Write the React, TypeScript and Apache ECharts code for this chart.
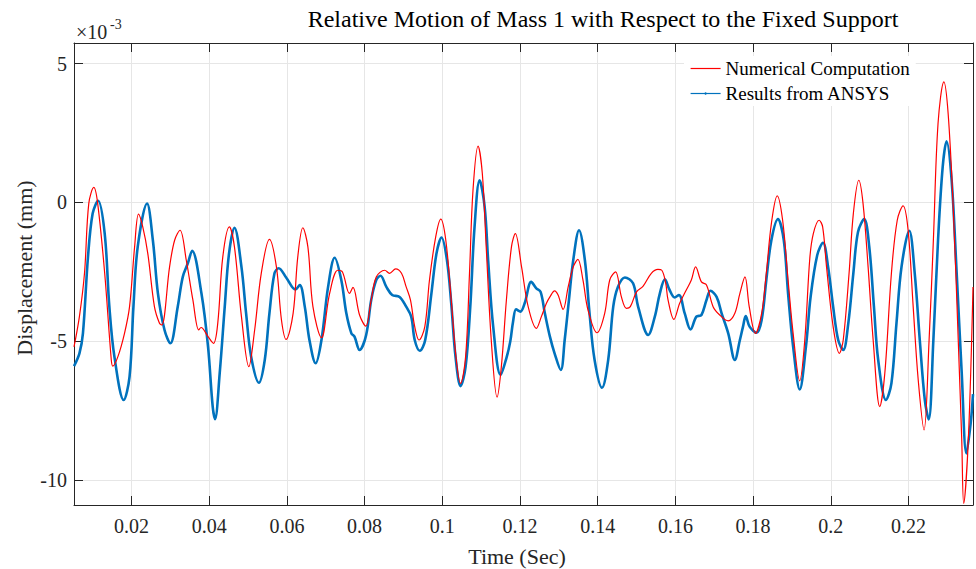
import React, { useEffect, useRef } from "react";
import * as echarts from "echarts";

// Numerical Computation (red) — time (s), displacement (×1e-3 mm)
const numTime = [
  0.0052, 0.0066, 0.0079, 0.009, 0.0103, 0.0113, 0.0131, 0.0148, 0.0152, 0.0165, 0.0182, 0.0195,
  0.0208, 0.0218, 0.0229, 0.0242, 0.0259, 0.0272, 0.0278, 0.0298, 0.0311, 0.0325, 0.0341, 0.0358,
  0.0373, 0.0379, 0.0397, 0.0411, 0.0422, 0.0435, 0.0452, 0.0465, 0.0483, 0.0502, 0.0517, 0.0534,
  0.0555, 0.0573, 0.0586, 0.0598, 0.0616, 0.0628, 0.0641, 0.0654, 0.0667, 0.0689, 0.071, 0.0731,
  0.0743, 0.0761, 0.077, 0.0787, 0.0803, 0.0817, 0.083, 0.0852, 0.0864, 0.088, 0.0895, 0.0907,
  0.0918, 0.0929, 0.094, 0.0955, 0.0967, 0.0983, 0.0996, 0.1009, 0.1023, 0.1036, 0.1047, 0.106,
  0.107, 0.1079, 0.1092, 0.1103, 0.1113, 0.1126, 0.1141, 0.1152, 0.1165, 0.1178, 0.1188, 0.1204,
  0.1221, 0.1242, 0.1255, 0.1268, 0.1277, 0.1289, 0.1298, 0.1311, 0.1324, 0.1337, 0.1349, 0.1362,
  0.1375, 0.1398, 0.1418, 0.1431, 0.1446, 0.1461, 0.1474, 0.1484, 0.15, 0.1517, 0.1538, 0.1555,
  0.1565, 0.1575, 0.1581, 0.1596, 0.1611, 0.1628, 0.1641, 0.1652, 0.1667, 0.168, 0.1697, 0.1714,
  0.1736, 0.1753, 0.1766, 0.1779, 0.179, 0.1806, 0.1822, 0.1834, 0.1847, 0.1862, 0.1876, 0.189,
  0.1903, 0.192, 0.1933, 0.1946, 0.1955, 0.197, 0.1979, 0.1989, 0.2006, 0.2022, 0.2032, 0.2047,
  0.2058, 0.2072, 0.2083, 0.2096, 0.2109, 0.2126, 0.2139, 0.2156, 0.2171, 0.2186, 0.2199, 0.2212,
  0.2225, 0.224, 0.2253, 0.2264, 0.2276, 0.2291, 0.2302, 0.2315, 0.2328, 0.2337, 0.2342, 0.2354,
  0.2366,
];
const numDisp = [
  -5.2, -4.1, -2.55, -0.04, 0.54, -0.04, -2.55, -5.67, -5.89, -5.55, -4.71, -3.75,
  -1.6, -0.42, -0.88, -1.84, -3.75, -4.35, -4.41, -2.32, -1.36, -1.0, -2.08, -3.51,
  -4.59, -4.5, -4.83, -5.07, -4.35, -1.96, -0.88, -1.6, -4.11, -5.91, -4.59, -2.55,
  -1.33, -2.32, -4.23, -4.93, -3.99, -1.96, -0.91, -1.6, -3.75, -4.87, -3.27, -2.44,
  -2.5, -3.27, -3.06, -4.05, -4.45, -3.51, -2.68, -2.44, -2.55, -2.39, -2.55, -3.04,
  -3.51, -4.47, -4.95, -4.47, -2.79, -1.24, -0.6, -1.36, -3.51, -5.67, -6.51, -5.55,
  -2.55, 0.44, 2.03, 1.04, -1.6, -4.95, -7.01, -5.91, -3.51, -1.6, -1.12, -2.32,
  -3.75, -4.53, -4.11, -3.63, -3.4, -3.18, -3.33, -3.85, -3.04, -2.32, -2.05, -2.79,
  -3.87, -4.69, -3.99, -2.79, -2.5, -3.4, -3.81, -3.75, -3.22, -3.01, -2.55, -2.41,
  -2.44, -2.9, -3.51, -4.21, -3.63, -3.15, -2.79, -2.32, -2.86, -2.97, -3.75, -4.05,
  -4.26, -3.99, -3.27, -2.68, -3.75, -4.71, -3.99, -2.55, -0.76, 0.24, -0.64, -2.79,
  -4.71, -6.42, -4.95, -2.0, -1.12, -0.64, -0.88, -2.32, -4.47, -5.43, -4.95, -2.55,
  -0.4, 0.8, -0.04, -2.32, -4.95, -7.35, -6.15, -2.55, -0.64, -0.12, -1.0, -3.75,
  -6.39, -8.19, -4.95, -1.36, 2.84, 4.34, 3.2, -0.16, -4.95, -8.53, -10.83, -8.53,
  -3.04,
];

// Results from ANSYS (blue) — time (s), displacement (×1e-3 mm)
const ansysTime = [
  0.0052, 0.0066, 0.0075, 0.0088, 0.01, 0.0114, 0.0131, 0.0143, 0.0156, 0.018, 0.0195, 0.0205,
  0.0216, 0.024, 0.0255, 0.0268, 0.0285, 0.03, 0.0319, 0.0332, 0.0345, 0.0356, 0.038, 0.0397,
  0.0409, 0.0415, 0.0427, 0.044, 0.0451, 0.0465, 0.0483, 0.0495, 0.0508, 0.0528, 0.0543, 0.0555,
  0.0568, 0.0579, 0.0598, 0.0622, 0.0633, 0.0646, 0.0658, 0.0674, 0.0689, 0.0706, 0.0723, 0.074,
  0.0753, 0.0766, 0.0774, 0.0787, 0.0804, 0.0817, 0.083, 0.0841, 0.0856, 0.0871, 0.089, 0.0907,
  0.092, 0.0929, 0.0942, 0.0956, 0.0972, 0.0985, 0.0998, 0.1012, 0.1023, 0.1034, 0.1047, 0.106,
  0.1072, 0.1083, 0.1096, 0.1109, 0.1118, 0.1131, 0.115, 0.1165, 0.1175, 0.1182, 0.119, 0.1201,
  0.1212, 0.1229, 0.1242, 0.1253, 0.1264, 0.1277, 0.1289, 0.1305, 0.1315, 0.1326, 0.1337, 0.1352,
  0.1367, 0.1379, 0.1392, 0.1411, 0.1427, 0.144, 0.1452, 0.147, 0.1491, 0.1504, 0.153, 0.1547,
  0.156, 0.1573, 0.1585, 0.1598, 0.1609, 0.1624, 0.1639, 0.1654, 0.1667, 0.168, 0.169, 0.1706,
  0.1719, 0.1736, 0.1753, 0.1766, 0.1774, 0.1781, 0.1791, 0.1809, 0.1822, 0.1834, 0.1847, 0.1864,
  0.1879, 0.189, 0.1903, 0.192, 0.1936, 0.1948, 0.1965, 0.198, 0.1993, 0.2006, 0.2019, 0.2032,
  0.2045, 0.2058, 0.207, 0.2086, 0.2099, 0.2111, 0.2122, 0.2142, 0.2156, 0.2169, 0.2182, 0.2202,
  0.2216, 0.2229, 0.2242, 0.2252, 0.2264, 0.2276, 0.2288, 0.2298, 0.2311, 0.2324, 0.2337, 0.2349,
  0.236, 0.2366,
];
const ansysDisp = [
  -5.89, -5.43, -4.71, -1.96, -0.4, 0.06, -1.12, -3.75, -5.55, -7.11, -6.27, -3.75,
  -1.6, -0.04, -1.36, -3.27, -4.59, -5.07, -3.75, -2.68, -2.19, -1.74, -3.27, -5.19,
  -7.35, -7.8, -6.15, -3.75, -1.84, -0.91, -2.32, -3.99, -5.55, -6.49, -5.67, -3.99,
  -2.55, -2.37, -2.7, -3.13, -2.97, -3.75, -4.95, -5.79, -4.95, -3.04, -1.99, -2.79,
  -3.99, -4.71, -4.83, -5.31, -4.77, -3.51, -2.79, -2.64, -3.04, -3.33, -3.4, -3.75,
  -4.11, -4.95, -5.34, -4.95, -3.27, -1.84, -1.26, -2.08, -3.63, -5.55, -6.61, -5.91,
  -3.75, -0.88, 0.8, -0.16, -2.08, -4.47, -6.21, -5.6, -5.0, -4.3, -3.85, -3.93,
  -3.63, -2.86, -3.09, -3.22, -3.99, -4.83, -5.43, -6.03, -4.95, -3.51, -2.08, -1.0,
  -2.08, -3.99, -5.67, -6.67, -5.67, -3.75, -3.04, -2.7, -2.91, -3.75, -4.77, -4.11,
  -3.27, -2.77, -3.15, -3.42, -3.33, -3.99, -4.57, -4.11, -4.05, -3.51, -3.18, -3.4,
  -3.99, -4.71, -5.67, -4.95, -4.47, -4.09, -4.47, -4.69, -4.23, -2.79, -1.36, -0.6,
  -1.36, -3.27, -5.19, -6.73, -5.19, -3.4, -1.9, -1.45, -2.32, -3.75, -4.95, -5.31,
  -4.35, -2.55, -1.06, -0.6, -1.6, -3.75, -5.67, -7.11, -6.51, -4.35, -2.32, -1.02,
  -2.55, -4.95, -7.11, -7.81, -4.95, -1.36, 1.28, 2.2, 0.8, -2.55, -6.15, -9.03,
  -7.95, -6.9,
];

const xTicks = [0.02, 0.04, 0.06, 0.08, 0.1, 0.12, 0.14, 0.16, 0.18, 0.2, 0.22];
const yTicks = [-10, -5, 0, 5];
const xRange = [0.0052, 0.2366];
const yRange = [-10.89, 5.74];

const FONT = "'Liberation Serif', 'Times New Roman', serif";
const AXIS_COLOR = "#262626";
const GRID_COLOR = "#e6e6e6";

export default function App() {
  const ref = useRef<HTMLDivElement>(null);

  useEffect(() => {
    if (!ref.current) return;
    const chart = echarts.init(ref.current, undefined, { renderer: "svg" });

    const baseX = {
      type: "value",
      min: xRange[0],
      max: xRange[1],
      axisLine: { show: true, onZero: false, lineStyle: { color: AXIS_COLOR, width: 1 } },
      axisTick: { show: true, inside: true, length: 9, customValues: xTicks, lineStyle: { color: AXIS_COLOR } },
    };
    const baseY = {
      type: "value",
      min: yRange[0],
      max: yRange[1],
      axisLine: { show: true, onZero: false, lineStyle: { color: AXIS_COLOR, width: 1 } },
      axisTick: { show: true, inside: true, length: 9, customValues: yTicks, lineStyle: { color: AXIS_COLOR } },
    };

    chart.setOption({
      animation: false,
      backgroundColor: "#ffffff",
      textStyle: { fontFamily: FONT },
      grid: { left: 74, right: 3, top: 43, bottom: 64, outerBoundsMode: "none", containLabel: false },
      legend: {
        orient: "vertical",
        left: 684,
        top: 56,
        padding: [3, 6, 3, 6],
        backgroundColor: "#ffffff",
        itemWidth: 30,
        itemHeight: 3,
        itemGap: 6,
        lineStyle: { width: 1.2 },
        textStyle: { fontFamily: FONT, fontSize: 19, color: "#000000", padding: [0, 0, 0, 0] },
        data: [
          { name: "Numerical Computation", itemStyle: { opacity: 0 } },
          { name: "Results from ANSYS" },
        ],
      },
      xAxis: [
        {
          ...baseX,
          position: "bottom",
          axisLabel: {
            show: true,
            customValues: xTicks,
            margin: 11,
            fontFamily: FONT,
            fontSize: 20,
            color: AXIS_COLOR,
            formatter: (v: number) => String(+v.toFixed(3)),
          },
          splitLine: { show: true, lineStyle: { color: GRID_COLOR, width: 1 } },
        },
        {
          ...baseX,
          position: "top",
          axisLabel: { show: false },
          splitLine: { show: false },
        },
      ],
      yAxis: [
        {
          ...baseY,
          position: "left",
          axisLabel: {
            show: true,
            customValues: yTicks,
            margin: 7,
            fontFamily: FONT,
            fontSize: 20,
            color: AXIS_COLOR,
            formatter: (v: number) => String(v),
          },
          splitLine: { show: true, lineStyle: { color: GRID_COLOR, width: 1 } },
        },
        {
          ...baseY,
          position: "right",
          axisLabel: { show: false },
          splitLine: { show: false },
        },
      ],
      series: [
        {
          name: "Numerical Computation",
          type: "line",
          xAxisIndex: 0,
          yAxisIndex: 0,
          data: numTime.map((t, i) => [t, numDisp[i]]),
          symbol: "none",
          smooth: 0.35,
          lineStyle: { color: "#ff0000", width: 1.2 },
          itemStyle: { color: "#ff0000" },
          z: 3,
        },
        {
          name: "Results from ANSYS",
          type: "line",
          xAxisIndex: 0,
          yAxisIndex: 0,
          data: ansysTime.map((t, i) => [t, ansysDisp[i]]),
          symbol: "circle",
          symbolSize: 3,
          showSymbol: false,
          smooth: 0.35,
          lineStyle: { color: "#0072bd", width: 2.6 },
          itemStyle: { color: "#0072bd" },
          z: 2,
        },
      ],
      graphic: [
        {
          type: "text",
          x: 603,
          y: 19,
          style: {
            text: "Relative Motion of Mass 1 with Respect to the Fixed Support",
            font: `24px ${FONT}`,
            fill: "#000000",
            textAlign: "center",
            textVerticalAlign: "middle",
          },
        },
        {
          type: "text",
          x: 76,
          y: 32,
          style: {
            text: "×10",
            font: `20px ${FONT}`,
            fill: AXIS_COLOR,
            textAlign: "left",
            textVerticalAlign: "middle",
          },
        },
        {
          type: "text",
          x: 110,
          y: 24,
          style: {
            text: "-3",
            font: `14px ${FONT}`,
            fill: AXIS_COLOR,
            textAlign: "left",
            textVerticalAlign: "middle",
          },
        },
        {
          type: "text",
          x: 517,
          y: 556,
          style: {
            text: "Time (Sec)",
            font: `22px ${FONT}`,
            fill: AXIS_COLOR,
            textAlign: "center",
            textVerticalAlign: "middle",
          },
        },
        {
          type: "text",
          x: 24,
          y: 268,
          rotation: Math.PI / 2,
          style: {
            text: "Displacement (mm)",
            font: `22px ${FONT}`,
            fill: AXIS_COLOR,
            textAlign: "center",
            textVerticalAlign: "middle",
          },
        },
      ],
    });

    return () => chart.dispose();
  }, []);

  return (
    <div
      ref={ref}
      style={{ position: "fixed", left: 0, top: 0, width: 976, height: 569, background: "#fff" }}
    />
  );
}
